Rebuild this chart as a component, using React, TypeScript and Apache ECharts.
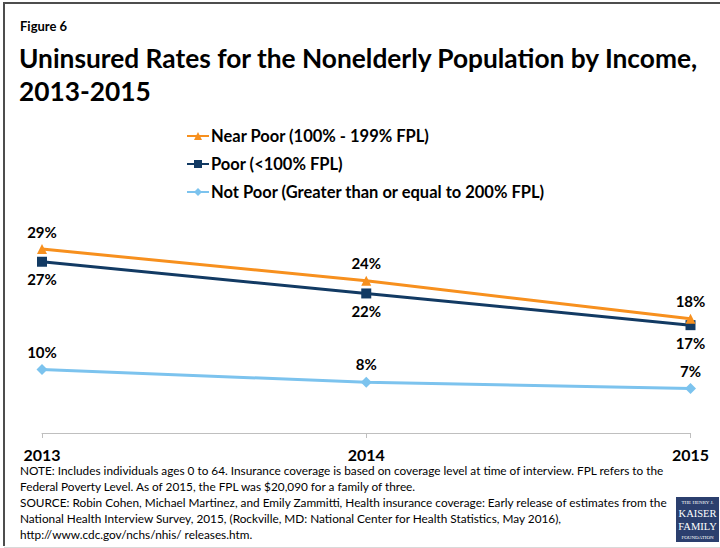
import React, { useEffect, useRef } from "react";
import * as echarts from "echarts";

const years = ["2013", "2014", "2015"];
const nearPoor = [29, 24, 18];
const poor = [27, 22, 17];
const notPoor = [10, 8, 7];
const seriesNames = [
  "Near Poor (100% - 199% FPL)",
  "Poor (<100% FPL)",
  "Not Poor (Greater than or equal to 200% FPL)",
];
const figureLabel = "Figure 6";
const titleLines = [
  "Uninsured Rates for the Nonelderly Population by Income,",
  "2013-2015",
];
const noteLines = [
  "NOTE: Includes individuals ages 0 to 64. Insurance coverage is based on coverage level at time of interview. FPL refers to the",
  "Federal Poverty Level. As of 2015, the FPL was $20,090 for a family of three.",
  "SOURCE: Robin Cohen, Michael Martinez, and Emily Zammitti, Health insurance coverage: Early release of estimates from the",
  "National Health Interview Survey, 2015, (Rockville, MD: National Center for Health Statistics, May 2016),",
  "http://www.cdc.gov/nchs/nhis/ releases.htm.",
];

const FONT = "Lato, 'Open Sans', sans-serif";
const COLORS = ["#f7901e", "#123a63", "#7cc3ee"];

export default function App() {
  const ref = useRef<HTMLDivElement>(null);
  useEffect(() => {
    if (!ref.current) return;
    const chart = echarts.init(ref.current, null, { renderer: "svg" });
    const label = (pos: string) => ({
      show: true,
      position: pos,
      distance: 5,
      formatter: "{c}%",
      color: "#000",
      fontFamily: FONT,
      fontWeight: "bold",
      fontSize: 15,
    });
    const graphics: any[] = [
      { type: "line", shape: { x1: 3, y1: 3, x2: 720, y2: 3 }, style: { stroke: "#4d4d4d", lineWidth: 2 } },
      { type: "line", shape: { x1: 4, y1: 2, x2: 4, y2: 546 }, style: { stroke: "#4d4d4d", lineWidth: 2 } },
      { type: "line", shape: { x1: 4, y1: 547.5, x2: 720, y2: 547.5 }, style: { stroke: "#d9d9d9", lineWidth: 1 } },
      {
        type: "text", left: 20, top: 19,
        style: { text: figureLabel, font: `bold 13px ${FONT}`, fill: "#000" },
      },
      {
        type: "text", left: 19, top: 45,
        style: { text: titleLines[0], font: `bold 26.3px ${FONT}`, fill: "#000" },
      },
      {
        type: "text", left: 19, top: 78,
        style: { text: titleLines[1], font: `bold 26.3px ${FONT}`, fill: "#000" },
      },
      ...noteLines.map((t, i) => ({
        type: "text", left: 20, top: 464 + i * 16,
        style: { text: t, font: `11.8px ${FONT}`, fill: "#000" },
      })),
      { type: "rect", shape: { x: 676, y: 497, width: 43, height: 45 }, style: { fill: "#2b3f6e" } },
      { type: "text", x: 697.5, y: 502.5, style: { text: "THE HENRY J.", font: "5px 'Liberation Serif', serif", fill: "#fff", align: "center", verticalAlign: "middle" } },
      { type: "text", x: 697.5, y: 513.5, style: { text: "KAISER", font: "10.5px 'Liberation Serif', serif", fill: "#fff", align: "center", verticalAlign: "middle" } },
      { type: "text", x: 697.5, y: 526.5, style: { text: "FAMILY", font: "10.5px 'Liberation Serif', serif", fill: "#fff", align: "center", verticalAlign: "middle" } },
      { type: "text", x: 697.5, y: 537.5, style: { text: "FOUNDATION", font: "5px 'Liberation Serif', serif", fill: "#fff", align: "center", verticalAlign: "middle" } },
    ];
    chart.setOption({
      animation: false,
      color: COLORS,
      grid: { left: 42, right: 29.5, top: 211, bottom: 115, containLabel: false },
      legend: {
        orient: "vertical",
        left: 186,
        top: 126,
        padding: 0,
        itemWidth: 22,
        itemHeight: 10,
        itemGap: 8,
        data: seriesNames,
        textStyle: {
          fontFamily: FONT, fontWeight: "bold", fontSize: 16.5, color: "#000", lineHeight: 20,
          padding: [0, 0, 0, -3],
        },
      },
      xAxis: {
        type: "category",
        data: years,
        boundaryGap: false,
        axisLine: { lineStyle: { color: "#bfbfbf", width: 1 } },
        axisTick: { show: true, length: 5, lineStyle: { color: "#bfbfbf" } },
        axisLabel: {
          interval: 0,
          margin: 13,
          color: "#000",
          fontFamily: FONT,
          fontWeight: "bold",
          fontSize: 16,
        },
      },
      yAxis: { type: "value", min: 0, max: 35, show: false },
      series: [
        {
          name: seriesNames[0], type: "line", data: nearPoor, symbol: "triangle", symbolSize: 10,
          lineStyle: { width: 3 }, label: label("top"), z: 3,
        },
        {
          name: seriesNames[1], type: "line", data: poor, symbol: "rect", symbolSize: 10,
          lineStyle: { width: 3 }, label: label("bottom"), z: 2,
        },
        {
          name: seriesNames[2], type: "line", data: notPoor, symbol: "diamond", symbolSize: 11,
          lineStyle: { width: 3 }, label: label("top"),
        },
      ],
      graphic: graphics,
    });
    return () => chart.dispose();
  }, []);
  return <div ref={ref} style={{ position: "absolute", left: 0, top: 0, width: 720, height: 548 }} />;
}
